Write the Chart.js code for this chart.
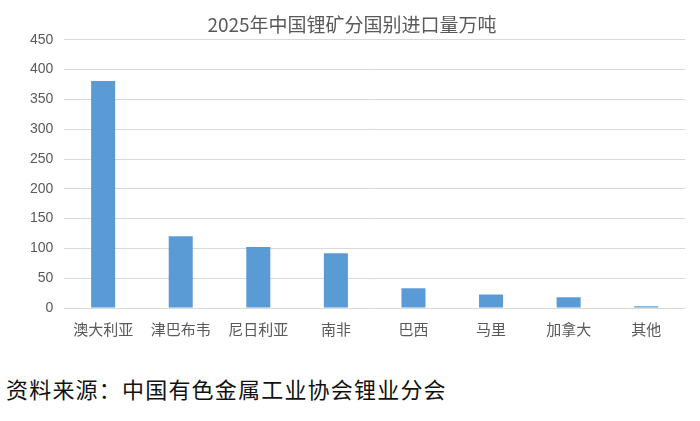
<!DOCTYPE html>
<html>
<head>
<meta charset="utf-8">
<script src="https://cdn.jsdelivr.net/npm/chart.js@4"></script>
<style>
  html, body { margin: 0; padding: 0; background: #ffffff; }
  #wrap { position: relative; width: 700px; height: 421px; overflow: hidden; }
  #chartBox { position: absolute; left: 0; top: 0; width: 700px; height: 357px; }
  #source {
    position: absolute; left: 6px; top: 375px;
    font-family: "Noto Sans CJK SC", sans-serif; font-size: 22px; line-height: 26px;
    letter-spacing: 1.2px; color: #111111; white-space: nowrap;
  }
</style>
</head>
<body>
<div id="wrap">
  <div id="chartBox"><canvas id="lithiumChart"></canvas></div>
  <div id="source">资料来源：中国有色金属工业协会锂业分会</div>
</div>
<script>
// data (万吨)
const countries = ['澳大利亚', '津巴布韦', '尼日利亚', '南非', '巴西', '马里', '加拿大', '其他'];
const importVolume = [381, 120.5, 102.5, 92, 33, 22.5, 18, 3];
const yTicks = [0, 50, 100, 150, 200, 250, 300, 350, 400, 450];

const chartTitle = '2025年中国锂矿分国别进口量万吨';
const textGray = '#595959';
const cjkFont = '"Noto Sans CJK SC", sans-serif';

const ctx = document.getElementById('lithiumChart');

new Chart(ctx, {
    type: 'bar',
    data: {
        labels: countries,
        datasets: [{
            label: '进口量',
            data: importVolume,
            backgroundColor: '#5b9bd5',
            borderWidth: 0,
            categoryPercentage: 1.0,
            barPercentage: 0.31
        }]
    },
    options: {
        responsive: true,
        maintainAspectRatio: false,
        animation: false,
        layout: {
            padding: { left: 19, right: 15, top: 0, bottom: 7 }
        },
        plugins: {
            legend: { display: false },
            tooltip: { enabled: false },
            title: {
                display: true,
                text: chartTitle,
                color: textGray,
                font: { family: cjkFont, size: 19, weight: 'normal' },
                padding: { top: 13, bottom: 4 }
            }
        },
        scales: {
            x: {
                grid: { display: false, drawTicks: false },
                border: { display: false },
                ticks: {
                    color: textGray,
                    padding: 12,
                    maxRotation: 0,
                    font: { family: cjkFont, size: 15 }
                }
            },
            y: {
                min: yTicks[0],
                max: yTicks[yTicks.length - 1],
                afterBuildTicks: (scale) => {
                    scale.ticks = yTicks.map(v => ({ value: v }));
                },
                grid: { color: '#d9d9d9', lineWidth: 1, drawTicks: false },
                border: { display: false },
                ticks: {
                    color: textGray,
                    padding: 11,
                    font: { family: '"Liberation Sans", Arial, sans-serif', size: 14 }
                }
            }
        }
    }
});
</script>
</body>
</html>
